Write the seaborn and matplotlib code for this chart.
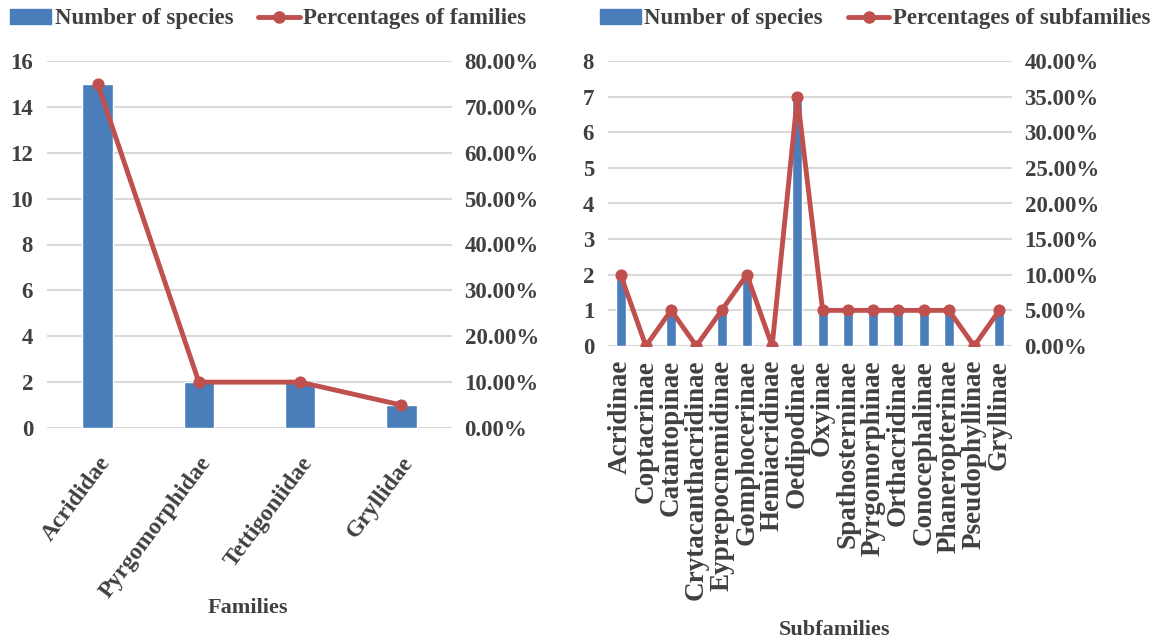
import numpy as np
import pandas as pd
import matplotlib
matplotlib.use("Agg")
import matplotlib.pyplot as plt
from matplotlib.patches import Patch
from matplotlib.lines import Line2D
from matplotlib.ticker import FuncFormatter, MultipleLocator
import seaborn as sns

# Species counts per family and per subfamily
families = ["Acrididae", "Pyrgomorphidae", "Tettigoniidae", "Gryllidae"]
family_species = [15, 2, 2, 1]
family_pct = [75.0, 10.0, 10.0, 5.0]

subfamilies = ["Acridinae", "Coptacrinae", "Catantopinae", "Crytacanthacridinae",
               "Eyprepocnemidinae", "Gomphocerinae", "Hemiacridinae", "Oedipodinae",
               "Oxyinae", "Spathosterninae", "Pyrgomorphinae", "Orthacridinae",
               "Conocephalinae", "Phaneropterinae", "Pseudophyllinae", "Gryllinae"]
subfamily_species = [2, 0, 1, 0, 1, 2, 0, 7, 1, 1, 1, 1, 1, 1, 0, 1]
subfamily_pct = [10.0, 0.0, 5.0, 0.0, 5.0, 10.0, 0.0, 35.0, 5.0, 5.0, 5.0, 5.0, 5.0, 5.0, 0.0, 5.0]

sns.set_theme(style="white")
plt.rcParams["font.family"] = ["Liberation Serif", "DejaVu Serif"]
plt.rcParams["font.weight"] = "bold"

BAR = "#4a7ebb"
LINE = "#c0504d"
TXT = "#404040"
GRID = "#d9d9d9"
FS = 16.5      # tick labels and legend
FS_X = 16      # axis titles

fig = plt.figure(figsize=(11.6, 6.43), dpi=100)
W, H = 1160, 643


def panel(box, cats, counts, pcts, ymax, ystep, pmax, pstep, bar_w,
          rot, cat_fs, cat_pad, xlabel, xlabel_xy, line_label, legend_cx):
    l, t, r, b = box
    ax = fig.add_axes([l / W, 1 - b / H, (r - l) / W, (b - t) / H])
    df = pd.DataFrame({"cat": cats, "n": counts, "pos": np.arange(len(cats)),
                       "pct": pcts})
    sns.barplot(data=df, x="cat", y="n", color=BAR, width=bar_w, ax=ax,
                saturation=1, zorder=2)
    ax.set_ylim(0, ymax)
    ax.yaxis.set_major_locator(MultipleLocator(ystep))
    ax.set_xlim(-0.5, len(cats) - 0.5)
    ax.grid(axis="y", color=GRID, linewidth=1.5, zorder=0)
    ax.set_axisbelow(True)
    for s in ax.spines.values():
        s.set_visible(False)
    ax.tick_params(axis="both", length=0, labelcolor=TXT)
    ax.tick_params(axis="y", pad=10, labelsize=FS)
    ax.tick_params(axis="x", labelsize=cat_fs, pad=cat_pad)
    ax.set_ylabel("")
    ax.set_xlabel("")
    if rot == 90:
        plt.setp(ax.get_xticklabels(), rotation=90, ha="center", va="top")
    else:
        plt.setp(ax.get_xticklabels(), rotation=rot, ha="right",
                 rotation_mode="anchor")
    for lab in ax.get_xticklabels() + ax.get_yticklabels():
        lab.set_fontweight("bold")

    # percentage line on the secondary axis
    ax2 = ax.twinx()
    sns.lineplot(data=df, x="pos", y="pct", color=LINE, linewidth=3.5,
                 marker="o", markersize=8, markeredgecolor=LINE, ax=ax2,
                 sort=False)
    ax2.set_ylim(0, pmax)
    ax2.yaxis.set_major_locator(MultipleLocator(pstep))
    ax2.yaxis.set_major_formatter(FuncFormatter(lambda v, p: f"{v:.2f}%"))
    ax2.set_ylabel("")
    ax2.set_xlabel("")
    for s in ax2.spines.values():
        s.set_visible(False)
    ax2.tick_params(axis="y", length=0, labelsize=FS, labelcolor=TXT, pad=9)
    for lab in ax2.get_yticklabels():
        lab.set_fontweight("bold")
    ax2.set_xlim(-0.5, len(cats) - 0.5)

    fig.text(xlabel_xy[0] / W, 1 - xlabel_xy[1] / H, xlabel, ha="center",
             va="center", fontsize=FS_X, fontweight="bold", color=TXT)

    handles = [Patch(facecolor=BAR, edgecolor=BAR, label="Number of species"),
               Line2D([0], [0], color=LINE, linewidth=3.5, marker="o",
                      markersize=8, label=line_label)]
    ax.legend(handles=handles, loc="lower center",
              bbox_to_anchor=(legend_cx / W, 1 - 50 / H),
              bbox_transform=fig.transFigure, ncol=2, frameon=False,
              handlelength=1.8, handleheight=0.65,
              handletextpad=0.15, columnspacing=1.1, labelcolor=TXT,
              prop={"weight": "bold", "size": FS})
    return ax, ax2


panel((47, 61, 452, 428), families, family_species, family_pct,
      16, 2, 80, 10, 0.3, 53, 17, 18, "Families", (248, 608),
      "Percentages of families", 268)
panel((608, 61, 1012, 346), subfamilies, subfamily_species, subfamily_pct,
      8, 1, 40, 5, 0.4, 90, 19.5, 10, "Subfamilies", (835, 630),
      "Percentages of subfamilies", 875)

fig.savefig("out.png", dpi=100, facecolor="white")
